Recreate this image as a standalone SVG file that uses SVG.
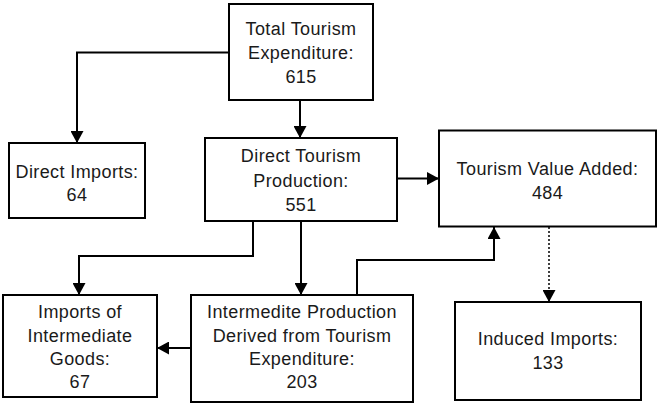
<svg xmlns="http://www.w3.org/2000/svg" width="657" height="403" viewBox="0 0 657 403">
<style>
.box{fill:#fff;stroke:#000;stroke-width:2}
.t{font-family:"Liberation Sans",Arial,sans-serif;font-size:18px;letter-spacing:0.4px;fill:#1a1a1a;text-anchor:middle}
.c{fill:none;stroke:#000;stroke-width:2}
.d{stroke-dasharray:2 2;stroke-width:1.5}
</style>
<defs>
<marker id="ah" markerUnits="userSpaceOnUse" markerWidth="12" markerHeight="13" refX="12" refY="6.5" orient="auto" viewBox="0 0 12 13">
<path d="M0,0 L12,6.5 L0,13 z" fill="#000"/>
</marker>
</defs>
<rect width="657" height="403" fill="#fff"/>
<g id="connectors">
<path class="c" d="M229,52.5 H77 V143" marker-end="url(#ah)"/>
<path class="c" d="M300,100 V138" marker-end="url(#ah)"/>
<path class="c" d="M397,178.5 H439" marker-end="url(#ah)"/>
<path class="c" d="M253,221 V256 H79 V295" marker-end="url(#ah)"/>
<path class="c" d="M301,221 V295" marker-end="url(#ah)"/>
<path class="c" d="M191,348 H157" marker-end="url(#ah)"/>
<path class="c" d="M357,295 V260 H494 V227" marker-end="url(#ah)"/>
<path class="c d" d="M549,227 V302" marker-end="url(#ah)"/>
</g>
<g id="total-tourism-expenditure">
<rect class="box" x="229" y="4" width="144" height="96"/>
<text class="t" x="301" y="35">Total Tourism</text>
<text class="t" x="301" y="59">Expenditure:</text>
<text class="t" x="301" y="83">615</text>
</g>
<g id="direct-tourism-production">
<rect class="box" x="205" y="138" width="192" height="83"/>
<text class="t" x="301" y="162">Direct Tourism</text>
<text class="t" x="301" y="187">Production:</text>
<text class="t" x="301" y="211">551</text>
</g>
<g id="direct-imports">
<rect class="box" x="9" y="143" width="136" height="75"/>
<text class="t" x="77" y="177.5">Direct Imports:</text>
<text class="t" x="77" y="201">64</text>
</g>
<g id="tourism-value-added">
<rect class="box" x="439" y="130.5" width="217" height="96"/>
<text class="t" x="547.5" y="175">Tourism Value Added:</text>
<text class="t" x="547.5" y="199">484</text>
</g>
<g id="imports-intermediate-goods">
<rect class="box" x="3" y="295" width="154" height="102"/>
<text class="t" x="80" y="317.5">Imports of</text>
<text class="t" x="80" y="341.5">Intermediate</text>
<text class="t" x="80" y="365">Goods:</text>
<text class="t" x="80" y="388">67</text>
</g>
<g id="intermediate-production">
<rect class="box" x="191" y="295" width="222" height="107"/>
<text class="t" x="302" y="317.5">Intermedite Production</text>
<text class="t" x="302" y="341.5">Derived from Tourism</text>
<text class="t" x="302" y="365">Expenditure:</text>
<text class="t" x="302" y="388">203</text>
</g>
<g id="induced-imports">
<rect class="box" x="455" y="302" width="186" height="98"/>
<text class="t" x="548" y="345">Induced Imports:</text>
<text class="t" x="548" y="369">133</text>
</g>
</svg>
